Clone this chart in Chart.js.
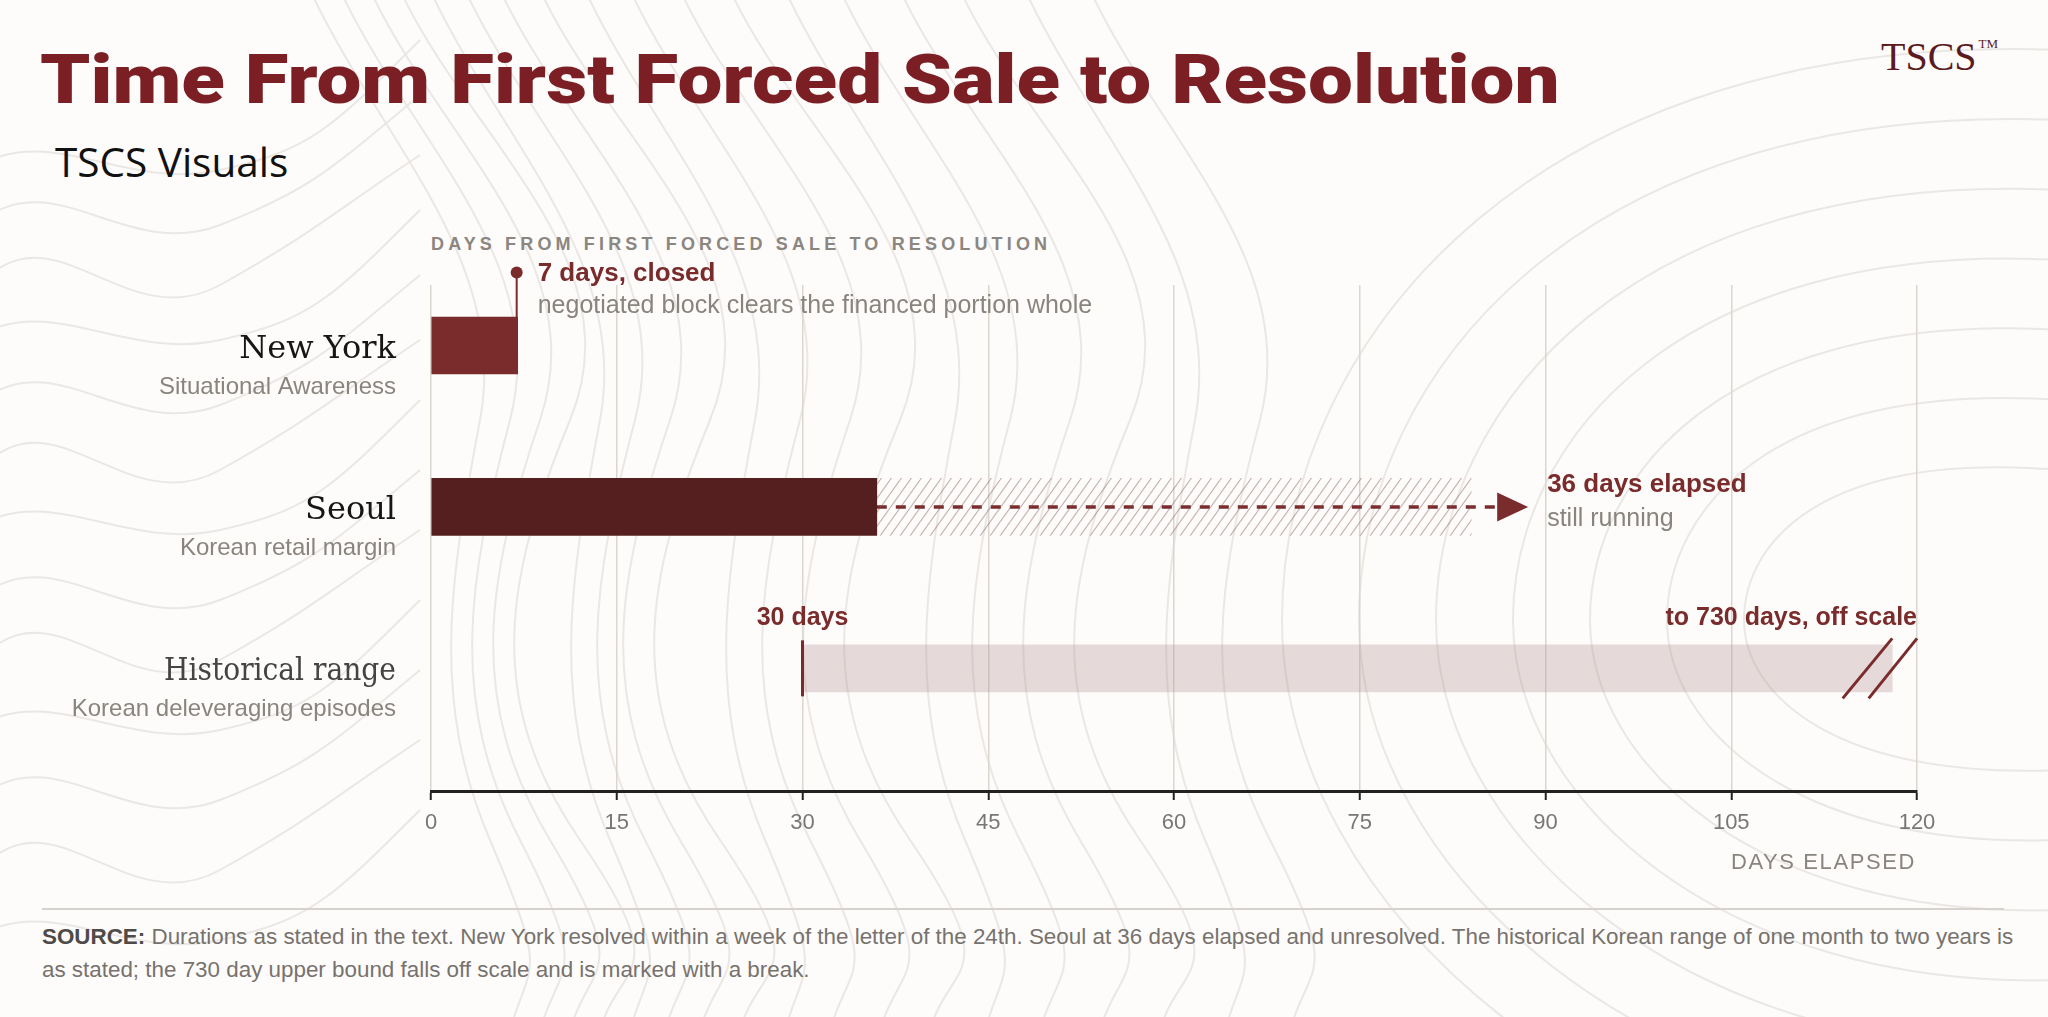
<!DOCTYPE html>
<html>
<head>
<meta charset="utf-8">
<title>Time From First Forced Sale to Resolution</title>
<script src="https://cdn.jsdelivr.net/npm/chart.js@4.4.1/dist/chart.umd.min.js"></script>
<style>
  html, body { margin: 0; padding: 0; }
  body {
    width: 2048px; height: 1017px; position: relative; overflow: hidden;
    background: #fdfcfb; font-family: "Liberation Sans", Arial, sans-serif;
  }
  #contours { position: absolute; left: 0; top: 0; }
  .title {
    position: absolute; left: 40px; top: 46px; margin: 0;
    font: 900 68px/1 Roboto, sans-serif; color: #7b1f24; white-space: nowrap;
    transform: scaleX(1.176); transform-origin: 0 0;
  }
  .logo {
    position: absolute; left: 1881px; top: 37px;
    font: 40px/1 "Liberation Serif", serif; color: #5b1a1e;
  }
  .logo sup { font-size: 13px; vertical-align: 22px; margin-left: 2px; }
  .subtitle {
    position: absolute; left: 55px; top: 142px;
    font: 40.5px/1 "Open Sans", sans-serif; color: #111;
  }
  .header {
    position: absolute; left: 431px; top: 235px;
    font: bold 18px/1 "Liberation Sans", Arial, sans-serif;
    letter-spacing: 4.15px; color: #8c8680; white-space: nowrap;
  }
  #chartBox { position: absolute; left: 0; top: 200px; width: 2048px; height: 700px; }
  .rule { position: absolute; left: 42px; top: 908px; width: 1962px; height: 2px; background: #d6d2ce; }
  .source {
    position: absolute; left: 42px; top: 920px; width: 2000px;
    font: 22.4px/33px "Liberation Sans", Arial, sans-serif; color: #77726d; white-space: nowrap;
  }
  .source b { color: #4d4a47; }
</style>
</head>
<body>
<svg id="contours" width="2048" height="1017"></svg>
<h1 class="title">Time From First Forced Sale to Resolution</h1>
<div class="logo">TSCS<sup>TM</sup></div>
<div class="subtitle">TSCS Visuals</div>
<div class="header">DAYS FROM FIRST FORCED SALE TO RESOLUTION</div>
<div id="chartBox"><canvas id="timeChart"></canvas></div>
<div class="rule"></div>
<div class="source"><b>SOURCE:</b> Durations as stated in the text. New York resolved within a week of the letter of the 24th. Seoul at 36 days elapsed and unresolved. The historical Korean range of one month to two years is<br>as stated; the 730 day upper bound falls off scale and is marked with a break.</div>

<script>
// rows, top to bottom
const rows = ['New York', 'Seoul', 'Historical range'];
const rowNotes = ['Situational Awareness', 'Korean retail margin', 'Korean deleveraging episodes'];
const rowIndex = [0, 1, 2];

// days from first forced sale
const barStart = [0, 0, 30];
const barEnd = [7, 36, 118];        // historical bar is cut at the break, true end 730
const hatchEnd = [null, 84, null];  // seoul: still running
const arrowTip = [null, 88.6, null];
const breakMarks = [[114, 118], [116.1, 120]];
const tickValues = [0, 15, 30, 45, 60, 75, 90, 105, 120];

const RED = '#7a2b2b';
const DARK = '#561f1f';
const GREY = '#8a847e';

// background contour lines (decoration only)
(function drawContours() {
  const svg = document.getElementById('contours');
  const paths = [];
  const midX = [470, 500, 530, 560, 590, 625, 660, 700, 745, 790, 840, 890, 945, 1000, 1060, 1120, 1185, 1250];
  midX.forEach((x0, i) => {
    const w = 40 + (i % 4) * 12;
    paths.push(`M${x0 - 160} -10 C${x0 - 90} 140 ${x0 + w} 260 ${x0 + 10} 420 S${x0 - w} 700 ${x0 + 20} 840 S${x0 + 60} 960 ${x0 + 40} 1030`);
  });
  const leftY = [160, 215, 275, 330, 395, 460, 520, 590, 650, 720, 790, 860, 930];
  leftY.forEach((y0, i) => {
    const a = 30 + (i % 3) * 15;
    paths.push(`M-10 ${y0} C60 ${y0 - a} 130 ${y0 + a} 220 ${y0 + 10} S330 ${y0 - a} 420 ${y0 - 120}`);
  });
  const loops = [60, 130, 200, 270, 340, 410, 480];
  loops.forEach((r) => {
    const cx = 1930, cy = 620;
    const rx = 120 + r * 1.1, ry = 90 + r;
    paths.push(`M2060 ${cy - ry} C${cx - rx * 0.6} ${cy - ry - 20} ${cx - rx} ${cy - ry * 0.5} ${cx - rx} ${cy} S${cx - rx * 0.5} ${cy + ry + 10} 2060 ${cy + ry}`);
  });
  svg.innerHTML = paths.map(d => `<path d="${d}" fill="none" stroke="#eae7e4" stroke-width="2"/>`).join('');
})();

// diagonal hatch for the unresolved stretch
function hatchPattern() {
  const c = document.createElement('canvas');
  c.width = 10; c.height = 14;
  const g = c.getContext('2d');
  g.strokeStyle = 'rgba(125, 80, 80, 0.42)';
  g.lineWidth = 1.2;
  [-10, 0, 10].forEach((dx) => {
    g.beginPath();
    g.moveTo(dx, 14);
    g.lineTo(dx + 10, 0);
    g.stroke();
  });
  return g.createPattern(c, 'repeat');
}

const overlay = {
  id: 'overlay',
  afterDatasetsDraw(chart) {
    const { ctx, chartArea, scales: { x, y } } = chart;
    ctx.save();

    // row labels
    rows.forEach((name, i) => {
      const ry = y.getPixelForValue(rowIndex[i]);
      ctx.textAlign = 'right';
      ctx.textBaseline = 'alphabetic';
      ctx.fillStyle = i === 2 ? '#444' : '#161616';
      ctx.font = '32px "DejaVu Serif", serif';
      ctx.fillText(name, chartArea.left - 35, ry + 12, 232);
      ctx.fillStyle = GREY;
      ctx.font = '24px "Liberation Sans", Arial, sans-serif';
      ctx.fillText(rowNotes[i], chartArea.left - 35, ry + 48);
    });

    // new york: pin and callout
    const nyY = y.getPixelForValue(rowIndex[0]);
    const nyX = x.getPixelForValue(barEnd[0]) - 1;
    ctx.strokeStyle = RED;
    ctx.fillStyle = RED;
    ctx.lineWidth = 2;
    ctx.beginPath();
    ctx.moveTo(nyX, nyY - 28);
    ctx.lineTo(nyX, nyY - 73);
    ctx.stroke();
    ctx.beginPath();
    ctx.arc(nyX, nyY - 73, 6, 0, Math.PI * 2);
    ctx.fill();
    ctx.textAlign = 'left';
    ctx.font = 'bold 26px "Liberation Sans", Arial, sans-serif';
    ctx.fillText('7 days, closed', nyX + 21, nyY - 65);
    ctx.fillStyle = GREY;
    ctx.font = '25px "Liberation Sans", Arial, sans-serif';
    ctx.fillText('negotiated block clears the financed portion whole', nyX + 21, nyY - 33);

    // seoul: arrowhead and callout
    const sY = y.getPixelForValue(rowIndex[1]);
    const tipX = x.getPixelForValue(arrowTip[1]);
    ctx.fillStyle = RED;
    ctx.beginPath();
    ctx.moveTo(tipX, sY);
    ctx.lineTo(tipX - 31, sY - 14.5);
    ctx.lineTo(tipX - 31, sY + 14.5);
    ctx.closePath();
    ctx.fill();
    ctx.font = 'bold 26px "Liberation Sans", Arial, sans-serif';
    ctx.fillText('36 days elapsed', tipX + 19, sY - 15);
    ctx.fillStyle = GREY;
    ctx.font = '25px "Liberation Sans", Arial, sans-serif';
    ctx.fillText('still running', tipX + 19, sY + 19);

    // historical range: lower bound marker, break, labels
    const hY = y.getPixelForValue(rowIndex[2]);
    const loX = x.getPixelForValue(barStart[2]);
    ctx.strokeStyle = RED;
    ctx.lineWidth = 3;
    ctx.beginPath();
    ctx.moveTo(loX, hY - 28);
    ctx.lineTo(loX, hY + 28);
    ctx.stroke();
    breakMarks.forEach(([a, b]) => {
      ctx.beginPath();
      ctx.moveTo(x.getPixelForValue(a), hY + 30);
      ctx.lineTo(x.getPixelForValue(b), hY - 30);
      ctx.stroke();
    });
    ctx.fillStyle = RED;
    ctx.font = 'bold 25px "Liberation Sans", Arial, sans-serif';
    ctx.textAlign = 'center';
    ctx.fillText(barStart[2] + ' days', loX, hY - 43);
    ctx.textAlign = 'right';
    ctx.fillText('to 730 days, off scale', x.getPixelForValue(120), hY - 43);

    // axis caption
    ctx.fillStyle = GREY;
    ctx.font = '22px "Liberation Sans", Arial, sans-serif';
    ctx.letterSpacing = '1.6px';
    ctx.fillText('DAYS ELAPSED', x.right - 1, x.bottom - 31);
    ctx.letterSpacing = '0px';

    ctx.restore();
  }
};

new Chart(document.getElementById('timeChart'), {
  type: 'bar',
  data: {
    datasets: [
      {
        label: rows[0],
        data: [{ x: [barStart[0], barEnd[0]], y: rowIndex[0] }],
        backgroundColor: RED,
        barThickness: 57,
        grouped: false
      },
      {
        label: rows[1],
        data: [{ x: [barStart[1], barEnd[1]], y: rowIndex[1] }],
        backgroundColor: DARK,
        barThickness: 57,
        grouped: false
      },
      {
        label: rows[1] + ' (running)',
        data: [{ x: [barEnd[1], hatchEnd[1]], y: rowIndex[1] }],
        backgroundColor: hatchPattern(),
        barThickness: 57,
        grouped: false
      },
      {
        label: rows[2],
        data: [{ x: [barStart[2], barEnd[2]], y: rowIndex[2] }],
        backgroundColor: 'rgba(175, 140, 140, 0.3)',
        barThickness: 47,
        grouped: false
      },
      {
        type: 'line',
        label: 'trend',
        data: [{ x: barEnd[1], y: rowIndex[1] }, { x: arrowTip[1] - 2.4, y: rowIndex[1] }],
        borderColor: RED,
        borderWidth: 3.5,
        borderDash: [10, 9],
        pointRadius: 0,
        fill: false
      }
    ]
  },
  options: {
    indexAxis: 'y',
    responsive: true,
    maintainAspectRatio: false,
    animation: false,
    events: [],
    layout: { padding: { left: 431, right: 131, top: 85, bottom: 0 } },
    plugins: { legend: { display: false }, tooltip: { enabled: false } },
    scales: {
      x: {
        type: 'linear',
        position: 'bottom',
        min: 0,
        max: 120,
        offset: false,
        afterBuildTicks: (scale) => { scale.ticks = tickValues.map(v => ({ value: v })); },
        afterFit: (scale) => { scale.height = 109; },
        grid: { color: '#dcd6d0', lineWidth: 1.5, tickColor: '#222', tickLength: 9, tickWidth: 2, offset: false },
        border: { color: '#222', width: 3 },
        ticks: { color: '#777', font: { family: '"Liberation Sans", Arial, sans-serif', size: 22 }, padding: 10 }
      },
      y: {
        type: 'linear',
        reverse: true,
        min: -0.375,
        max: 2.76,
        offset: false,
        grid: { offset: false },
        display: false
      }
    }
  },
  plugins: [overlay]
});
</script>
</body>
</html>
